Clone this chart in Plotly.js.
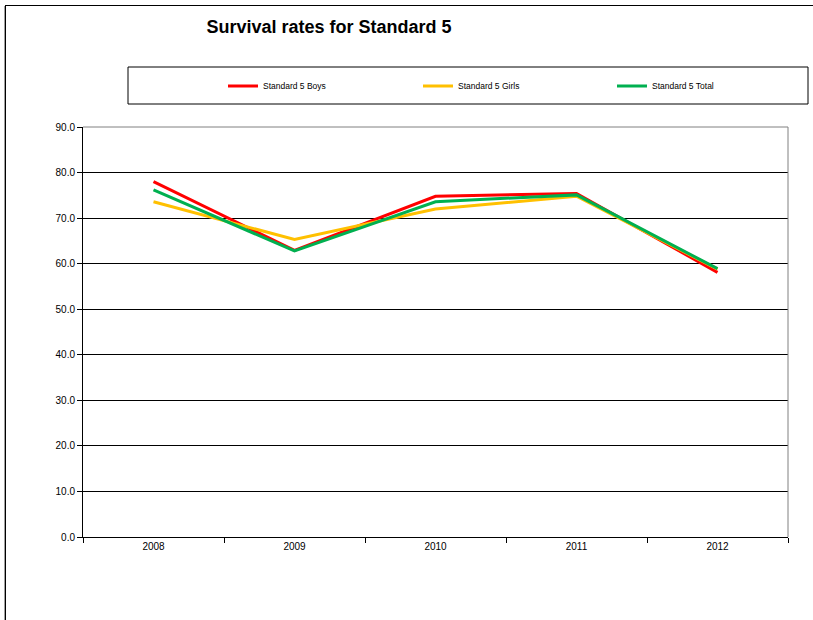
<!DOCTYPE html>
<html>
<head>
<meta charset="utf-8">
<script src="https://cdn.plot.ly/plotly-3.0.1.min.js"></script>
<style>html,body{margin:0;padding:0;background:#fff;overflow:hidden;}#chart{width:813px;height:620px;}</style>
</head>
<body>
<div id="chart"></div>
<script>
const years = ["2008", "2009", "2010", "2011", "2012"];
const boys = [78.0, 62.9, 74.8, 75.4, 58.1];
const girls = [73.6, 65.3, 72.0, 74.8, 58.8];
const total = [76.2, 62.8, 73.6, 75.1, 58.9];
const yTicks = [0, 10, 20, 30, 40, 50, 60, 70, 80, 90];

const mk = (name, y, color, leg) => ({
  x: years, y: y, name: name, type: "scatter", mode: "lines",
  line: {color: color, width: 3}, legend: leg
});

const data = [
  mk("Standard 5 Boys", boys, "#ff0000", "legend"),
  mk("Standard 5 Girls", girls, "#ffc000", "legend2"),
  mk("Standard 5 Total", total, "#00b050", "legend3")
];

const font = "Liberation Sans, Arial, sans-serif";
const px = v => (v - 83) / 705;
const py = v => (537 - v) / 410;
const leg = xPix => ({
  xref: "container", yref: "container", x: xPix / 813, xanchor: "left",
  y: 1 - 86 / 620, yanchor: "middle", orientation: "h",
  font: {family: font, size: 8.5, color: "#000"},
  bgcolor: "rgba(0,0,0,0)", borderwidth: 0
});
const layout = {
  width: 813, height: 620,
  margin: {l: 83, r: 25, t: 127, b: 83},
  paper_bgcolor: "#fff", plot_bgcolor: "#fff",
  font: {family: font, size: 10, color: "#000"},
  title: {text: "<b>Survival rates for Standard 5</b>", font: {family: font, size: 18, color: "#000"},
    x: 329/813, xanchor: "center", y: 1 - 27/620, yanchor: "middle"},
  showlegend: true,
  legend: leg(223),
  legend2: leg(418),
  legend3: leg(612),
  xaxis: {type: "category", range: [-0.5, 4.5], showgrid: false, zeroline: false,
    showline: true, linecolor: "#000", linewidth: 1, ticks: "outside", ticklen: 5, tickcolor: "#000",
    tickson: "boundaries", tickfont: {size: 10}, fixedrange: true},
  yaxis: {range: [0, 90], tickvals: yTicks, ticktext: yTicks.map(v => v.toFixed(1)),
    showgrid: true, gridcolor: "#000", gridwidth: 1, zeroline: false,
    showline: true, linecolor: "#000", linewidth: 1, ticks: "outside", ticklen: 5, tickcolor: "#000",
    tickfont: {size: 10}, fixedrange: true},
  shapes: [
    {type: "line", xref: "paper", yref: "paper", x0: 0, x1: 1, y0: 1, y1: 1, line: {color: "#808080", width: 1}},
    {type: "line", xref: "paper", yref: "paper", x0: 1, x1: 1, y0: 0, y1: 1, line: {color: "#808080", width: 1}},
    {type: "rect", xref: "paper", yref: "paper",
      x0: px(128), x1: px(808), y0: py(104), y1: py(67),
      line: {color: "#000", width: 1}, fillcolor: "rgba(0,0,0,0)"},
    {type: "line", xref: "paper", yref: "paper", x0: px(5), x1: px(813), y0: py(5.5), y1: py(5.5),
      line: {color: "#000", width: 1}},
    {type: "line", xref: "paper", yref: "paper", x0: px(5.5), x1: px(5.5), y0: py(700), y1: py(5),
      line: {color: "#000", width: 1}},
    {type: "line", xref: "paper", yref: "paper", x0: px(4.5), x1: px(4.5), y0: py(700), y1: py(6),
      line: {color: "#a0a0a0", width: 1}}
  ]
};

Plotly.newPlot("chart", data, layout, {displayModeBar: false, staticPlot: true});
</script>
</body>
</html>
